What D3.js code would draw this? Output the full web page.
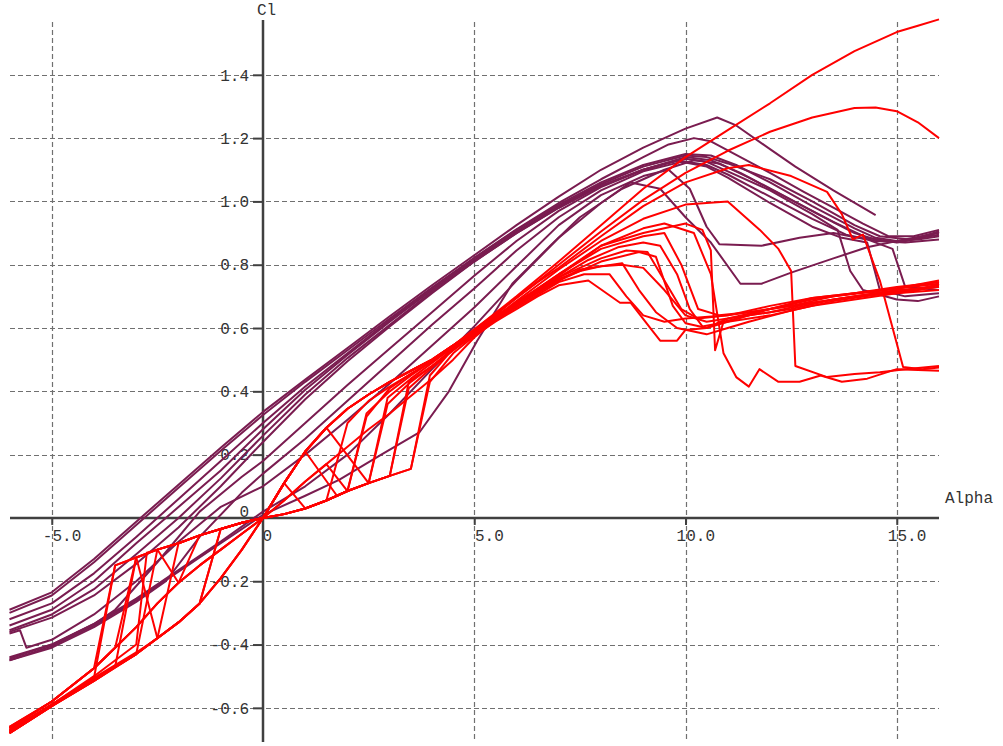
<!DOCTYPE html>
<html>
<head>
<meta charset="utf-8">
<script src="https://cdn.jsdelivr.net/npm/d3@7"></script>
<style>
  html, body { margin: 0; padding: 0; background: #fff; }
  svg { display: block; }
  .lbl { font-family: "Liberation Mono", "Courier New", monospace; font-size: 16px; fill: #333; }
</style>
</head>
<body>
<svg id="chart" width="1003" height="746"></svg>
<script>
// ---- axis ticks ----
const alphaTicks = [-5, 0, 5, 10, 15];
const alphaTickLabels = ["-5.0", "0", "5.0", "10.0", "15.0"];
const clTicks = [-0.6, -0.4, -0.2, 0, 0.2, 0.4, 0.6, 0.8, 1.0, 1.2, 1.4];
const clTickLabels = ["-0.6", "-0.4", "-0.2", "0", "0.2", "0.4", "0.6", "0.8", "1.0", "1.2", "1.4"];

// ---- polars of the cambered section, [alpha, Cl] ----
const polarP1 = [[-6,-0.29],[-5,-0.235],[-4,-0.13],[-3,-0.012],[-2,0.105],[-1,0.222],[0,0.335],[1,0.437],[2,0.537],[3,0.637],[4,0.735],[5,0.83],[6,0.925],[7,1.015],[8,1.1],[9,1.17],[10,1.23],[10.75,1.265],[11.2,1.24],[12,1.165],[12.6,1.11],[13.5,1.035],[14.5,0.957]];
const polarP2 = [[-6,-0.30],[-5,-0.245],[-4,-0.14],[-3,-0.022],[-2,0.095],[-1,0.212],[0,0.325],[1,0.43],[2,0.53],[3,0.63],[4,0.728],[5,0.822],[6,0.912],[7,0.995],[8,1.07],[9,1.14],[9.6,1.18],[10.2,1.2],[10.6,1.19],[11.3,1.14],[12,1.09],[12.8,1.03],[13.5,0.98],[14.2,0.93],[14.8,0.89],[15.4,0.89],[16,0.91]];
const polarP3 = [[-6,-0.34],[-5,-0.29],[-4,-0.2],[-3,-0.08],[-2.3,0.0],[-1,0.15],[0,0.28],[1,0.405],[2,0.515],[3,0.62],[4,0.72],[5,0.815],[6,0.905],[7,0.985],[8,1.055],[9,1.11],[10,1.145],[10.5,1.14],[11,1.12],[12,1.07],[13,1.0],[14,0.925],[14.6,0.89],[15.3,0.88],[16,0.895]];
const polarP4 = [[-6,-0.36],[-5,-0.315],[-4,-0.245],[-3,-0.145],[-2,-0.03],[-1,0.1],[0,0.24],[1,0.375],[2,0.495],[3,0.605],[4,0.71],[5,0.81],[6,0.9],[7,0.98],[8,1.05],[9,1.10],[10,1.135],[10.5,1.125],[11,1.095],[12,1.035],[13,0.96],[13.6,0.91],[13.9,0.78],[14.2,0.72],[15,0.69],[15.5,0.685],[16,0.70]];
const polarP5 = [[-6,-0.44],[-5,-0.40],[-4,-0.335],[-3.5,-0.29],[-2.5,-0.14],[-1.5,0.02],[-0.5,0.13],[0,0.18],[1,0.3],[2,0.42],[3,0.535],[4,0.65],[5,0.765],[6,0.875],[7,0.97],[8,1.045],[9,1.1],[9.8,1.13],[10.5,1.115],[11,1.085],[12,1.015],[13,0.945],[13.8,0.895],[14.5,0.875],[15.2,0.87],[16,0.88]];
const polarP6 = [[-6,-0.365],[-5.75,-0.355],[-5.6,-0.41],[-5,-0.385],[-4,-0.305],[-3,-0.2],[-2,-0.075],[-1,0.035],[0,0.1],[1,0.2],[2,0.31],[3,0.425],[4,0.545],[5,0.665],[6,0.795],[7,0.925],[8,1.02],[9,1.08],[9.6,1.1],[10.1,1.04],[10.5,0.92],[10.8,0.865],[11.8,0.86],[12.7,0.885],[13.5,0.9],[14.3,0.88],[14.9,0.85],[15.2,0.73],[16,0.72]];
const polarP7 = [[-6,-0.45],[-5,-0.405],[-4,-0.34],[-3,-0.26],[-2,-0.17],[-1,-0.08],[0,0.01],[1,0.07],[1.8,0.12],[2.8,0.2],[3.7,0.27],[4.4,0.40],[5.07,0.56],[5.9,0.74],[6.8,0.86],[7.5,0.95],[8.5,1.04],[9.5,1.1],[10.2,1.13],[10.8,1.12],[11.5,1.075],[12.5,1.005],[13.5,0.935],[14.3,0.885],[15,0.87],[15.6,0.885],[16,0.905]];
const polarP8 = [[-6,-0.445],[-5,-0.4],[-4,-0.335],[-3,-0.255],[-2,-0.165],[-1,-0.075],[0,0.02],[1,0.1],[2,0.2],[3,0.33],[4,0.47],[5,0.605],[6,0.75],[7,0.885],[8,0.995],[8.7,1.06],[9.4,1.04],[10,0.95],[10.6,0.87],[11.3,0.74],[11.8,0.74],[12.5,0.775],[13.5,0.82],[14.3,0.855],[15,0.875],[16,0.9]];
const polarP9 = [[-6,-0.32],[-5,-0.27],[-4,-0.175],[-3,-0.06],[-2,0.06],[-1,0.18],[0,0.3],[1,0.415],[2,0.52],[3,0.625],[4,0.725],[5,0.82],[6,0.91],[7,0.99],[8,1.06],[9,1.115],[10,1.15],[10.6,1.145],[11.2,1.115],[12,1.06],[13,0.985],[14,0.915],[14.5,0.885],[15,0.875],[15.5,0.88],[16,0.89]];
const polarP10 = [[-6,-0.45],[-5,-0.41],[-4,-0.345],[-3,-0.265],[-2.3,-0.2],[-1.5,-0.06],[-0.5,0.08],[0,0.14],[1,0.25],[2,0.37],[3,0.49],[4,0.61],[5,0.725],[6,0.845],[7,0.95],[8,1.035],[9,1.095],[9.9,1.125],[10.5,1.11],[11,1.075],[12,0.995],[13,0.92],[13.7,0.885],[14.3,0.87],[14.6,0.72],[15.2,0.70],[16,0.71]];
const polarP11 = [[-6,-0.355],[-5,-0.305],[-4,-0.225],[-3,-0.115],[-2,0.0],[-1,0.125],[0,0.26],[1,0.39],[2,0.505],[3,0.61],[4,0.715],[5,0.81],[6,0.9],[7,0.98],[8,1.05],[9,1.1],[10,1.14],[10.6,1.13],[11.3,1.09],[12.3,1.02],[13.2,0.955],[14,0.9],[14.6,0.875],[15.2,0.875],[16,0.905]];

// ---- polars of the symmetric section, [alpha, Cl] ----
const polarR1 = [[-6,-0.68],[-5,-0.595],[-4,-0.505],[-3.5,-0.15],[-3,-0.125],[-2.5,-0.1],[-2,-0.08],[-1.5,-0.055],[-1,-0.035],[-0.5,-0.015],[0,0],[0.5,0.012],[1,0.03],[1.5,0.055],[2,0.085],[2.5,0.11],[3,0.133],[3.5,0.155],[3.95,0.43],[4.5,0.52],[5,0.575],[5.5,0.62],[6,0.66],[6.5,0.70],[7,0.735],[7.7,0.75],[8.45,0.68],[8.7,0.68],[9.2,0.594],[9.4,0.56],[9.8,0.56],[10,0.594],[10.5,0.6],[11,0.62],[12,0.64],[13,0.67],[14,0.69],[15,0.71],[16,0.72]];
const polarR2 = [[-6,-0.665],[-5,-0.58],[-4,-0.475],[-3.5,-0.41],[-3,-0.125],[-2.5,-0.1],[-2,-0.08],[-1.5,-0.055],[-1,-0.035],[-0.5,-0.015],[0,0],[0.5,0.012],[1,0.03],[1.5,0.055],[2,0.085],[2.5,0.11],[3,0.133],[3.45,0.41],[4,0.475],[4.5,0.53],[5,0.58],[5.5,0.625],[6,0.67],[6.5,0.71],[7,0.75],[7.5,0.785],[8.5,0.805],[8.9,0.72],[9.3,0.65],[9.8,0.6],[10.5,0.58],[11,0.6],[11.5,0.62],[12.5,0.655],[13.5,0.685],[14.5,0.705],[16,0.735]];
const polarR3 = [[-6,-0.675],[-5,-0.59],[-4,-0.51],[-3,-0.43],[-2.5,-0.1],[-2,-0.08],[-1.5,-0.055],[-1,-0.035],[-0.5,-0.015],[0,0],[0.5,0.11],[1,0.21],[1.75,0.07],[2,0.085],[2.5,0.11],[2.95,0.38],[3.5,0.44],[4,0.49],[4.5,0.54],[5,0.585],[5.5,0.63],[6,0.675],[6.5,0.715],[7,0.75],[7.5,0.78],[8,0.81],[8.9,0.84],[9.3,0.825],[9.7,0.67],[10,0.615],[10.5,0.6],[11,0.63],[12,0.65],[13,0.68],[14,0.7],[15,0.71],[16,0.73]];
const polarR4 = [[-6,-0.68],[-5,-0.595],[-4,-0.515],[-3.5,-0.47],[-3,-0.125],[-2.5,-0.1],[-2,-0.205],[-1.5,-0.15],[-1,-0.1],[-0.5,-0.05],[0,0],[0.5,0.012],[1,0.03],[1.5,0.055],[2,0.085],[2.5,0.11],[2.95,0.36],[3.5,0.43],[4,0.48],[4.5,0.535],[5,0.585],[5.5,0.63],[6,0.675],[6.5,0.72],[7,0.76],[7.7,0.815],[8.4,0.855],[9,0.87],[9.4,0.86],[9.8,0.77],[10.1,0.66],[10.4,0.605],[11,0.62],[12,0.66],[13,0.695],[14,0.71],[15,0.73],[16,0.745]];
const polarR5 = [[-6,-0.67],[-5,-0.59],[-4,-0.505],[-3,-0.425],[-2.5,-0.38],[-2,-0.08],[-1.5,-0.055],[-1,-0.035],[-0.5,-0.015],[0,0],[0.5,0.055],[1,0.115],[1.5,0.17],[2,0.225],[2.5,0.28],[3,0.33],[3.5,0.385],[4,0.44],[4.5,0.5],[5,0.57],[5.5,0.625],[6,0.675],[6.5,0.72],[7,0.765],[8,0.86],[9,0.9],[10,0.93],[10.4,0.91],[10.6,0.845],[10.7,0.53],[10.9,0.62],[11.5,0.64],[12.5,0.66],[13.5,0.69],[14.5,0.71],[15.5,0.72],[16,0.74]];
const polarR6 = [[-6,-0.66],[-5,-0.58],[-4,-0.475],[-3.5,-0.41],[-3,-0.345],[-2.5,-0.27],[-2,-0.205],[-1.5,-0.15],[-1,-0.1],[-0.5,-0.05],[0,0],[0.5,0.11],[1,0.21],[1.5,0.285],[2.5,0.11],[3,0.133],[3.5,0.155],[3.95,0.45],[4.5,0.535],[5,0.59],[5.5,0.635],[6,0.68],[6.5,0.725],[7,0.77],[8,0.86],[9,0.915],[9.5,0.93],[10.2,0.9],[10.6,0.77],[10.9,0.52],[11.2,0.445],[11.5,0.415],[11.75,0.47],[12.2,0.43],[12.7,0.43],[13.2,0.45],[13.7,0.43],[14.3,0.44],[15,0.47],[16,0.465]];
const polarR7 = [[-6,-0.675],[-5,-0.59],[-4,-0.51],[-3,-0.43],[-2,-0.33],[-1.5,-0.27],[-1,-0.19],[-0.5,-0.1],[0,0],[0.5,0.11],[1,0.21],[1.5,0.285],[2,0.345],[2.5,0.39],[3,0.43],[3.5,0.465],[4,0.5],[4.5,0.545],[5,0.59],[5.5,0.635],[6,0.685],[6.5,0.735],[7,0.785],[8,0.875],[9,0.945],[10,0.99],[11,1.0],[11.76,0.91],[12.2,0.85],[12.5,0.78],[12.6,0.48],[13.35,0.445],[14,0.455],[14.6,0.46],[15.2,0.47],[16,0.48]];
const polarR8 = [[-6,-0.66],[-5,-0.58],[-4,-0.475],[-3.5,-0.41],[-3,-0.345],[-2.5,-0.27],[-2,-0.205],[-1.5,-0.15],[-1,-0.1],[-0.5,-0.05],[0,0],[0.5,0.11],[1,0.21],[1.5,0.285],[2,0.345],[2.5,0.39],[3,0.43],[3.5,0.465],[4,0.5],[4.5,0.545],[5,0.59],[5.5,0.64],[6,0.695],[6.5,0.745],[7,0.79],[8,0.89],[9,0.985],[10,1.06],[11,1.105],[11.5,1.115],[12.5,1.08],[13.35,1.03],[13.7,0.96],[13.96,0.88],[14.2,0.895],[14.6,0.75],[15.15,0.477],[15.6,0.47],[16,0.475]];
const polarR9 = [[-6,-0.68],[-5,-0.595],[-4,-0.515],[-3,-0.43],[-2,-0.33],[-1.5,-0.27],[-1,-0.19],[-0.5,-0.1],[0,0],[0.5,0.11],[1,0.21],[1.5,0.285],[2,0.345],[2.5,0.39],[3,0.43],[3.5,0.465],[4,0.5],[4.5,0.545],[5,0.595],[6,0.695],[7,0.8],[8,0.905],[9,1.005],[10,1.09],[11,1.16],[12,1.22],[13,1.265],[14,1.295],[14.5,1.297],[15,1.285],[15.5,1.25],[16,1.2]];
const polarR10 = [[-6,-0.675],[-5,-0.59],[-4,-0.51],[-3,-0.43],[-2,-0.33],[-1.5,-0.27],[-1,-0.19],[-0.5,-0.1],[0,0],[0.5,0.11],[1,0.21],[1.5,0.285],[2,0.345],[2.5,0.39],[3,0.43],[3.5,0.465],[4,0.5],[4.5,0.545],[5,0.595],[6,0.7],[7,0.81],[8,0.925],[9,1.04],[10,1.14],[11,1.225],[12,1.31],[13,1.4],[14,1.475],[15,1.535],[15.5,1.555],[16,1.575]];
const polarR11 = [[-6,-0.67],[-5,-0.59],[-4,-0.5],[-3,-0.4],[-2.75,-0.11],[-2.5,-0.1],[-2,-0.08],[-1.5,-0.055],[-1,-0.035],[-0.5,-0.015],[0,0],[0.5,0.012],[1,0.03],[1.5,0.055],[2,0.085],[2.45,0.33],[3,0.4],[3.5,0.45],[4,0.495],[4.5,0.54],[5,0.585],[5.5,0.63],[6,0.675],[6.5,0.715],[7,0.755],[7.5,0.78],[8,0.795],[8.5,0.8],[9,0.79],[9.5,0.72],[10,0.64],[10.5,0.62],[11,0.63],[12,0.66],[13,0.69],[14,0.71],[15,0.725],[16,0.75]];
const polarR12 = [[-6,-0.665],[-5,-0.58],[-4,-0.475],[-3,-0.345],[-2.5,-0.27],[-2,-0.205],[-1.5,-0.055],[-1,-0.035],[-0.5,-0.015],[0,0],[0.5,0.012],[1,0.03],[1.5,0.055],[2,0.3],[2.5,0.37],[3,0.415],[3.5,0.455],[4,0.495],[4.5,0.54],[5,0.59],[5.5,0.635],[6,0.68],[6.5,0.72],[7,0.76],[7.5,0.79],[8,0.82],[8.6,0.845],[9.1,0.84],[9.5,0.75],[9.9,0.66],[10.3,0.63],[11,0.64],[12,0.67],[13,0.695],[14,0.71],[15,0.725],[16,0.74]];
const polarR13 = [[-6,-0.665],[-5,-0.58],[-4,-0.475],[-3.5,-0.15],[-3,-0.125],[-2.5,-0.38],[-2,-0.33],[-1.5,-0.27],[-1,-0.035],[-0.5,-0.015],[0,0],[0.5,0.055],[1,0.115],[1.5,0.17],[2,0.085],[2.5,0.11],[3,0.133],[3.45,0.43],[4,0.48],[4.5,0.53],[5,0.58],[5.5,0.625],[6,0.665],[6.5,0.705],[7,0.745],[7.6,0.77],[8.2,0.77],[8.6,0.7],[9,0.64],[9.5,0.62],[10,0.63],[11,0.64],[12,0.66],[13,0.68],[14,0.7],[15,0.72],[16,0.73]];
const polarR14 = [[-6,-0.68],[-5,-0.595],[-4,-0.515],[-3,-0.43],[-2,-0.33],[-1.5,-0.27],[-1,-0.035],[-0.5,-0.015],[0,0],[0.5,0.11],[1,0.03],[1.5,0.055],[2,0.085],[2.45,0.32],[3,0.41],[3.5,0.455],[4,0.495],[4.5,0.54],[5,0.59],[5.5,0.635],[6,0.68],[6.5,0.725],[7,0.77],[8,0.85],[9,0.89],[9.5,0.9],[9.9,0.8],[10.3,0.66],[10.8,0.64],[11.5,0.65],[12.5,0.67],[13.5,0.7],[14.5,0.715],[16,0.745]];

const cambered = [polarP1, polarP2, polarP3, polarP4, polarP5, polarP6, polarP7, polarP8, polarP9, polarP10, polarP11];
const symmetric = [polarR1, polarR2, polarR3, polarR4, polarR5, polarR6, polarR7, polarR8, polarR9, polarR10, polarR11, polarR12, polarR13, polarR14];

// ---- layout ----
const x = d3.scaleLinear().domain([-6, 16]).range([9.5, 939]);
const y = d3.scaleLinear().domain([-0.7, 1.6]).range([739.5, 11.5]);
const plotLeft = 10, plotRight = 939, plotTop = 20, plotBottom = 742;

const svg = d3.select("#chart");

svg.append("defs").append("clipPath").attr("id", "plotClip")
  .append("rect").attr("x", 8).attr("y", 0).attr("width", 934).attr("height", 746);

// dashed grid
const grid = svg.append("g").attr("stroke", "#707070").attr("stroke-width", 1.2)
  .attr("stroke-dasharray", "5,3");
grid.selectAll("line.h").data(clTicks.filter(d => d !== 0)).join("line")
  .attr("class", "h")
  .attr("x1", plotLeft).attr("x2", plotRight)
  .attr("y1", d => Math.round(y(d)) + 0.5).attr("y2", d => Math.round(y(d)) + 0.5);
grid.selectAll("line.v").data(alphaTicks.filter(d => d !== 0)).join("line")
  .attr("class", "v")
  .attr("y1", plotTop + 2).attr("y2", plotBottom)
  .attr("x1", d => Math.round(x(d)) + 0.5).attr("x2", d => Math.round(x(d)) + 0.5);

// axes crossing at the origin
const x0 = x(0), y0 = y(0);
const axisColor = "#404040";

const yAxis = d3.axisLeft(y).tickValues(clTicks.filter(d => d !== 0))
  .tickSize(10).tickFormat(d => clTickLabels[clTicks.indexOf(d)]);
const gy = svg.append("g").attr("transform", `translate(${x0},0)`).call(yAxis);
gy.select(".domain").remove();
gy.selectAll(".tick line").attr("stroke", axisColor).attr("stroke-width", 2);
gy.selectAll(".tick text").attr("class", "lbl").attr("x", -14).attr("dy", "0.33em")
  .attr("font-family", null).attr("font-size", null).attr("fill", null);

const xAxis = d3.axisBottom(x).tickValues(alphaTicks).tickSize(7)
  .tickFormat(d => alphaTickLabels[alphaTicks.indexOf(d)]);
const gx = svg.append("g").attr("transform", `translate(0,${y0})`).call(xAxis);
gx.select(".domain").remove();
gx.selectAll(".tick line").attr("stroke", axisColor).attr("stroke-width", 2)
  .filter(d => d === 0).remove();
gx.selectAll(".tick text").attr("class", "lbl")
  .attr("font-family", null).attr("font-size", null).attr("fill", null)
  .attr("y", 23).attr("dy", 0)
  .attr("text-anchor", d => d === 0 ? "start" : "end")
  .attr("x", d => d === 0 ? -1 : 29);

// y-axis "0" label
svg.append("text").attr("class", "lbl").attr("x", x0 - 14).attr("y", y0 - 1)
  .attr("text-anchor", "end").text(clTickLabels[clTicks.indexOf(0)]);

// axis lines
svg.append("line").attr("x1", x0).attr("x2", x0).attr("y1", plotTop).attr("y2", plotBottom)
  .attr("stroke", axisColor).attr("stroke-width", 2.5);
svg.append("line").attr("x1", plotLeft).attr("x2", plotRight).attr("y1", y0).attr("y2", y0)
  .attr("stroke", axisColor).attr("stroke-width", 2.5);

// axis titles
svg.append("text").attr("class", "lbl").attr("x", x0 - 6).attr("y", 15).text("Cl");
svg.append("text").attr("class", "lbl").attr("x", 945).attr("y", 503).text("Alpha");

// polar curves
const line = d3.line().x(d => x(d[0])).y(d => y(d[1]));
const curves = svg.append("g").attr("clip-path", "url(#plotClip)")
  .attr("fill", "none").attr("stroke-width", 2).attr("stroke-linejoin", "round");

curves.append("g").attr("stroke", "#7a1c50")
  .selectAll("path").data(cambered).join("path").attr("d", line);
curves.append("g").attr("stroke", "#ff0000")
  .selectAll("path").data(symmetric).join("path").attr("d", line);
</script>
</body>
</html>
